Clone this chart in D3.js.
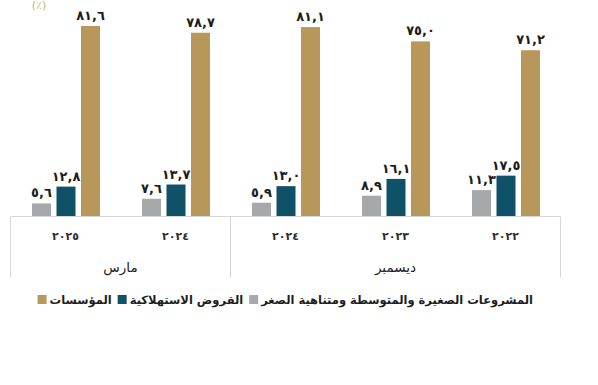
<!DOCTYPE html>
<html><head><meta charset="utf-8">
<script src="https://cdn.jsdelivr.net/npm/d3@7"></script>
<style>
html,body{margin:0;padding:0;background:#fff;}
svg{display:block;font-family:"DejaVu Sans",sans-serif;}
</style></head>
<body>
<svg id="c" width="598" height="385"></svg>
<script>
const groups = ["2025-03","2024-03","2024-12","2023-12","2022-12"];
const yearLabels = ["٢٠٢٥","٢٠٢٤","٢٠٢٤","٢٠٢٣","٢٠٢٢"];
const periods = [{label:"مارس", from:0, to:1},{label:"ديسمبر", from:2, to:4}];
const seriesNames = ["المشروعات الصغيرة والمتوسطة ومتناهية الصغر","القروض الاستهلاكية","المؤسسات"];
const seriesColors = ["#a7a8aa","#0f5166","#b8975a"];
const smeValues = [5.6, 7.6, 5.9, 8.9, 11.3];
const consumerValues = [12.8, 13.7, 13.0, 16.1, 17.5];
const corporateValues = [81.6, 78.7, 81.1, 75.0, 71.2];
const valueLabelsSme = ["٥,٦","٧,٦","٥,٩","٨,٩","١١,٣"];
const valueLabelsConsumer = ["١٢,٨","١٣,٧","١٣,٠","١٦,١","١٧,٥"];
const valueLabelsCorporate = ["٨١,٦","٧٨,٧","٨١,١","٧٥,٠","٧١,٢"];
const unitLabel = "(٪)";

const series = [smeValues, consumerValues, corporateValues];
const seriesLabels = [valueLabelsSme, valueLabelsConsumer, valueLabelsCorporate];

const svg = d3.select("#c");
const x0 = d3.scaleBand().domain(groups).range([10.5, 560.5]).padding(0);
const x1 = d3.scaleBand().domain([0,1,2]).range([21.5, 89.5]).paddingInner(0.2245).paddingOuter(0);
const y = d3.scaleLinear().domain([0, 90]).range([216.5, 216.5 - 90*2.335]);

// unit label
svg.append("text").attr("x", 39).attr("y", 9).attr("text-anchor","middle")
  .attr("font-size", 11).attr("fill", "#c8b27f").text(unitLabel);

// bars
groups.forEach((g, gi) => {
  series.forEach((vals, si) => {
    const bx = x0(g) + x1(si);
    svg.append("rect").attr("x", bx).attr("y", y(vals[gi]))
      .attr("width", x1.bandwidth()).attr("height", y(0) - y(vals[gi]))
      .attr("fill", seriesColors[si]);
    svg.append("text").attr("x", bx + x1.bandwidth()/2).attr("y", y(vals[gi]) - 6)
      .attr("text-anchor","middle").attr("font-size", 13).attr("font-weight","bold")
      .attr("fill","#1d1d1b").text(seriesLabels[si][gi]);
  });
});

// axis line and separators
const lineColor = "#d6d6d6";
svg.append("line").attr("x1", x0.range()[0]).attr("x2", x0.range()[1])
  .attr("y1", y(0)).attr("y2", y(0)).attr("stroke", lineColor).attr("stroke-width", 1);
const seps = [x0.range()[0], x0(groups[2]), x0.range()[1]];
seps.forEach(sx => {
  svg.append("line").attr("x1", sx).attr("x2", sx).attr("y1", y(0)).attr("y2", 277.5)
    .attr("stroke", lineColor).attr("stroke-width", 1);
});

// year labels
groups.forEach((g, gi) => {
  svg.append("text").attr("x", x0(g) + x0.bandwidth()/2).attr("y", 240)
    .attr("text-anchor","middle").attr("font-size", 11).attr("font-weight","bold")
    .attr("letter-spacing", 3.5).attr("fill","#2b2b2b").text(yearLabels[gi]);
});

// period labels
periods.forEach(p => {
  const cx = (x0(groups[p.from]) + x0(groups[p.to]) + x0.bandwidth())/2;
  svg.append("text").attr("x", cx).attr("y", 272).attr("text-anchor","middle")
    .attr("font-size", 13.5).attr("fill","#222").text(p.label);
});

// legend (right to left)
let lx = 533;
const ly = 304;
seriesNames.forEach((name, si) => {
  const t = svg.append("text").attr("x", lx).attr("y", ly).attr("text-anchor","end")
    .attr("font-size", 11.5).attr("font-weight","bold").attr("fill","#1d1d1b").text(name);
  const w = t.node().getComputedTextLength();
  lx -= w + 3;
  svg.append("rect").attr("x", lx - 9).attr("y", ly - 9).attr("width", 9).attr("height", 9)
    .attr("fill", seriesColors[si]);
  lx -= 9 + 6;
});
</script>
</body></html>
